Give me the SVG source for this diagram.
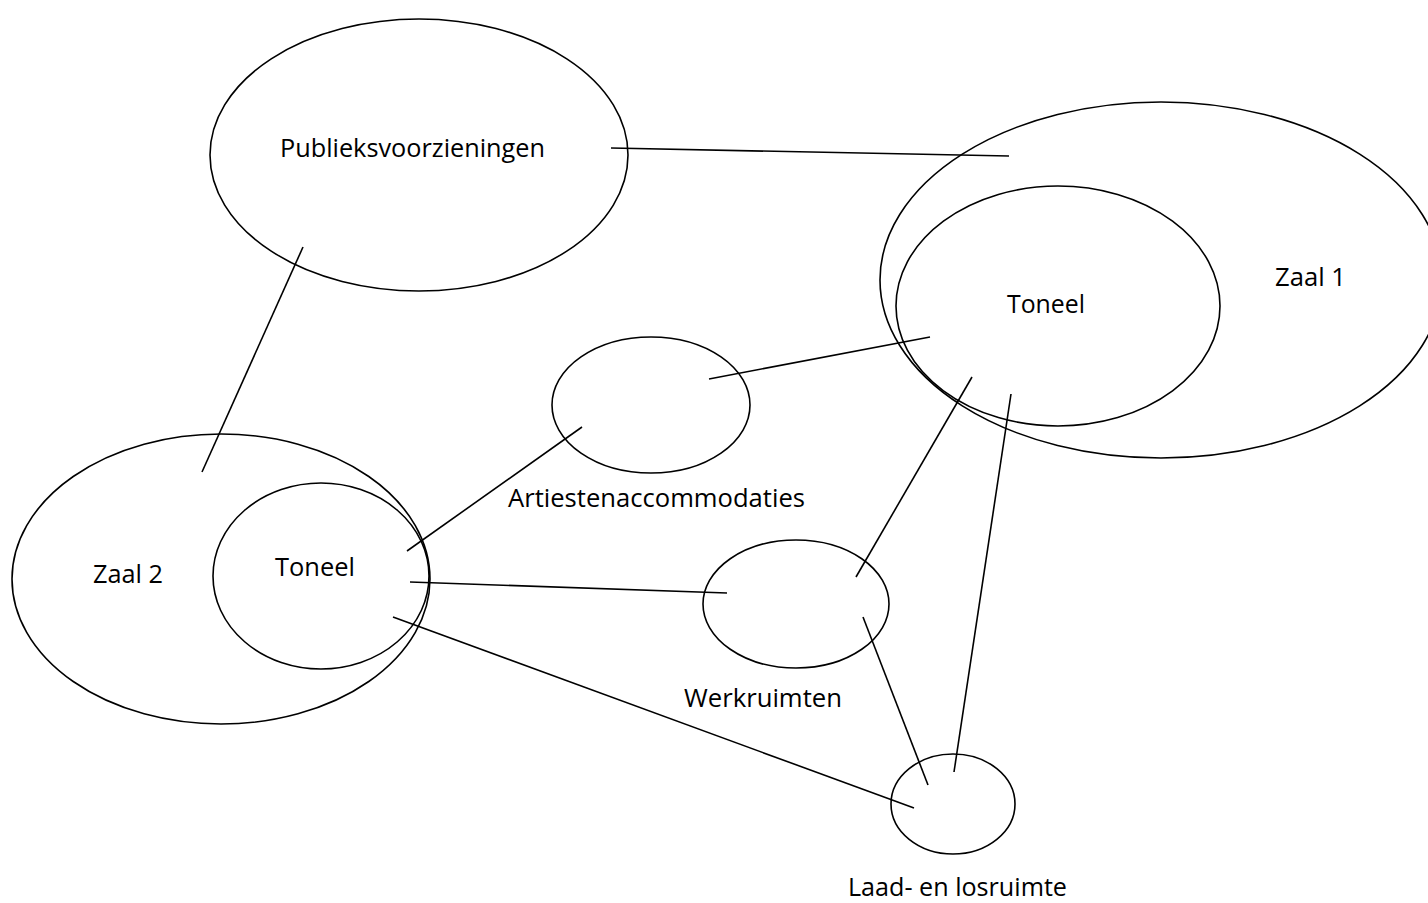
<svg xmlns="http://www.w3.org/2000/svg" width="1428" height="903" viewBox="0 0 1428 903">
<style>
.n{fill:none;stroke:#000;stroke-width:1.6}
.c line{stroke:#000;stroke-width:1.6}
text{font-family:"Open Sans","Liberation Sans",sans-serif;font-size:26px;fill:#000}
</style>
<rect width="1428" height="903" fill="#fff"/>
<g id="publieksvoorzieningen">
<ellipse class="n" cx="419" cy="155" rx="209" ry="136"/>
<text x="280" y="157" textLength="265" lengthAdjust="spacingAndGlyphs">Publieksvoorzieningen</text>
</g>
<g id="zaal1">
<ellipse class="n" cx="1161" cy="280" rx="281" ry="178"/>
<text x="1275" y="286" textLength="71" lengthAdjust="spacingAndGlyphs">Zaal 1</text>
</g>
<g id="toneel1">
<ellipse class="n" cx="1058" cy="306" rx="162" ry="120"/>
<text x="1007" y="313" textLength="78" lengthAdjust="spacingAndGlyphs">Toneel</text>
</g>
<g id="artiestenaccommodaties">
<ellipse class="n" cx="651" cy="405" rx="99" ry="68"/>
<text x="508" y="507" textLength="297" lengthAdjust="spacingAndGlyphs">Artiestenaccommodaties</text>
</g>
<g id="zaal2">
<ellipse class="n" cx="221" cy="579" rx="209" ry="145"/>
<text x="93" y="583" textLength="70" lengthAdjust="spacingAndGlyphs">Zaal 2</text>
</g>
<g id="toneel2">
<ellipse class="n" cx="321" cy="576" rx="108" ry="93"/>
<text x="275" y="576" textLength="80" lengthAdjust="spacingAndGlyphs">Toneel</text>
</g>
<g id="werkruimten">
<ellipse class="n" cx="796" cy="604" rx="93" ry="64"/>
<text x="684" y="707" textLength="158" lengthAdjust="spacingAndGlyphs">Werkruimten</text>
</g>
<g id="laadenlosruimte">
<ellipse class="n" cx="953" cy="804" rx="62" ry="50"/>
<text x="848" y="896" textLength="219" lengthAdjust="spacingAndGlyphs">Laad- en losruimte</text>
</g>
<g id="connectors" class="c">
<line x1="611" y1="148" x2="1009" y2="156"/>
<line x1="303" y1="247" x2="202" y2="472"/>
<line x1="709" y1="379" x2="930" y2="337"/>
<line x1="407" y1="551" x2="582" y2="427"/>
<line x1="410" y1="582" x2="727" y2="593"/>
<line x1="393" y1="617" x2="914" y2="808"/>
<line x1="856" y1="577" x2="972" y2="377"/>
<line x1="1011" y1="394" x2="954" y2="772"/>
<line x1="863" y1="617" x2="928" y2="785"/>
</g>
</svg>
